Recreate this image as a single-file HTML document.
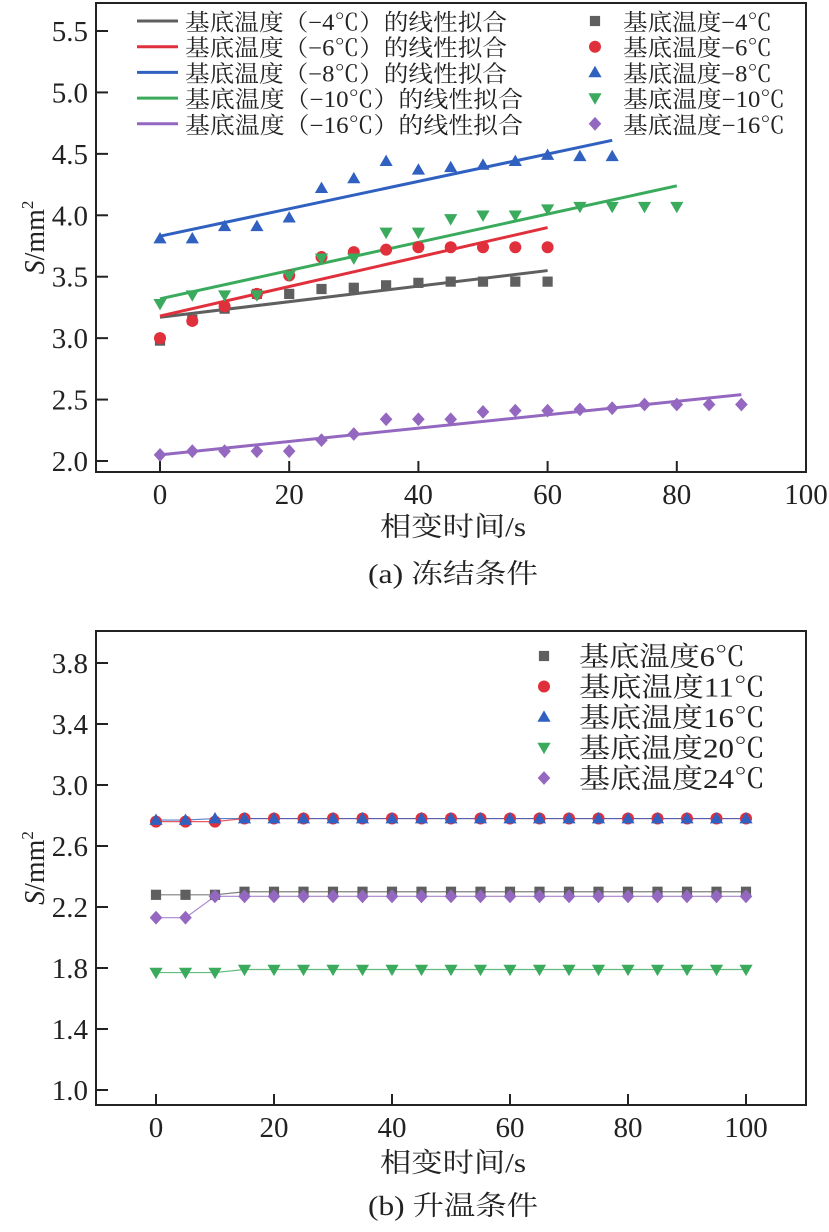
<!DOCTYPE html>
<html><head><meta charset="utf-8">
<style>
html,body{margin:0;padding:0;background:#fff;}
svg text{font-family:"Liberation Serif","Times New Roman","Noto Serif CJK SC",serif;}
</style></head>
<body>
<svg id="svg" width="829" height="1227" viewBox="0 0 829 1227" xmlns="http://www.w3.org/2000/svg"></svg>
<script>
// ---- chart (a) data ----
const aTimes = [0,5,10,15,20,25,30,35,40,45,50,55,60,65,70,75,80,85,90];
const aS4  = [2.98,3.15,3.24,3.36,3.36,3.40,3.41,3.43,3.45,3.46,3.46,3.46,3.46];
const aS6  = [3.00,3.14,3.26,3.36,3.51,3.66,3.70,3.72,3.74,3.74,3.74,3.74,3.74];
const aS8  = [3.81,3.81,3.91,3.91,3.98,4.22,4.30,4.44,4.37,4.39,4.41,4.44,4.49,4.48,4.48];
const aS10 = [3.28,3.35,3.35,3.35,3.51,3.65,3.65,3.86,3.86,3.97,4.00,4.00,4.05,4.07,4.07,4.07,4.07];
const aS16 = [2.05,2.08,2.08,2.08,2.08,2.17,2.22,2.34,2.34,2.34,2.40,2.41,2.41,2.42,2.43,2.46,2.46,2.46,2.46];
const aFitStart = [3.17,3.18,3.83,3.32,2.05];
const aFitEnd   = [3.55,3.90,4.61,4.24,2.54];
const aFitXEnd  = [60,60,70,80,90];
const aXTicks = [0,20,40,60,80,100];
const aYTicks = [2.0,2.5,3.0,3.5,4.0,4.5,5.0,5.5];
const aFitLabels = ["基底温度（−4℃）的线性拟合","基底温度（−6℃）的线性拟合","基底温度（−8℃）的线性拟合","基底温度（−10℃）的线性拟合","基底温度（−16℃）的线性拟合"];
const aPtLabels = ["基底温度−4℃","基底温度−6℃","基底温度−8℃","基底温度−10℃","基底温度−16℃"];
// ---- chart (b) data ----
const bTimes = [0,5,10,15,20,25,30,35,40,45,50,55,60,65,70,75,80,85,90,95,100];
const bS6  = [2.28,2.28,2.28,2.30,2.30,2.30,2.30,2.30,2.30,2.30,2.30,2.30,2.30,2.30,2.30,2.30,2.30,2.30,2.30,2.30,2.30];
const bS11 = [2.76,2.76,2.76,2.78,2.78,2.78,2.78,2.78,2.78,2.78,2.78,2.78,2.78,2.78,2.78,2.78,2.78,2.78,2.78,2.78,2.78];
const bS16 = [2.77,2.77,2.78,2.78,2.78,2.78,2.78,2.78,2.78,2.78,2.78,2.78,2.78,2.78,2.78,2.78,2.78,2.78,2.78,2.78,2.78];
const bS20 = [1.77,1.77,1.77,1.79,1.79,1.79,1.79,1.79,1.79,1.79,1.79,1.79,1.79,1.79,1.79,1.79,1.79,1.79,1.79,1.79,1.79];
const bS24 = [2.13,2.13,2.27,2.27,2.27,2.27,2.27,2.27,2.27,2.27,2.27,2.27,2.27,2.27,2.27,2.27,2.27,2.27,2.27,2.27,2.27];
const bXTicks = [0,20,40,60,80,100];
const bYTicks = [1.0,1.4,1.8,2.2,2.6,3.0,3.4,3.8];
const bLabels = ["基底温度6℃","基底温度11℃","基底温度16℃","基底温度20℃","基底温度24℃"];

const COLORS = ["#5f5f5f","#e0303c","#3060c0","#3aaa5c","#9468c0"];
const SHAPES = ["square","circle","up","down","diamond"];
const NS = "http://www.w3.org/2000/svg";
const svg = document.getElementById("svg");
const LATIN = "Liberation Serif, serif";
function el(tag, attrs, parent, text){
  const e = document.createElementNS(NS, tag);
  for (const k in attrs) e.setAttribute(k, attrs[k]);
  if (text !== undefined) e.textContent = text;
  (parent||svg).appendChild(e);
  return e;
}
function marker(shape, cx, cy, color, r, parent){
  let m;
  if (shape==="square") m = el("rect",{x:cx-r*0.85,y:cy-r*0.85,width:r*1.7,height:r*1.7,fill:color},parent);
  else if (shape==="circle") m = el("circle",{cx:cx,cy:cy,r:r,fill:color},parent);
  else if (shape==="up") m = el("polygon",{points:`${cx},${cy-r*1.1} ${cx-r*1.1},${cy+r*0.8} ${cx+r*1.1},${cy+r*0.8}`,fill:color},parent);
  else if (shape==="down") m = el("polygon",{points:`${cx},${cy+r*1.1} ${cx-r*1.1},${cy-r*0.8} ${cx+r*1.1},${cy-r*0.8}`,fill:color},parent);
  else m = el("polygon",{points:`${cx},${cy-r*1.15} ${cx+r*1.05},${cy} ${cx},${cy+r*1.15} ${cx-r*1.05},${cy}`,fill:color},parent);
  return m;
}

function axes(g, box, xs, ys, xTicks, yTicks, xTitleY, capY, capText, yTitleX){
  el("rect",{x:box.l,y:box.t,width:box.r-box.l,height:box.b-box.t,fill:"none",stroke:"#222","stroke-width":2},g);
  for (const v of xTicks){
    const x = xs(v);
    if (x < box.r-2) el("line",{x1:x,y1:box.b,x2:x,y2:box.b-11,stroke:"#222","stroke-width":2},g);
    const t = el("text",{x:x,y:box.b+32,"text-anchor":"middle","font-size":29,fill:"#222",style:"font-family:'Liberation Serif',serif"},g,String(v));
    
    
  }
  for (const v of yTicks){
    const y = ys(v);
    el("line",{x1:box.l,y1:y,x2:box.l+12,y2:y,stroke:"#222","stroke-width":2},g);
    const t = el("text",{x:box.l-8,y:y+10,"text-anchor":"end","font-size":29,fill:"#222",style:"font-family:'Liberation Serif',serif"},g,v.toFixed(1));
    
    
  }
  const xt = el("text",{x:453,y:xTitleY,"text-anchor":"middle","font-size":27,fill:"#222",textLength:146,lengthAdjust:"spacingAndGlyphs"},g,"相变时间/s");
  
  
  const cp = el("text",{x:453,y:capY,"text-anchor":"middle","font-size":27,fill:"#222",textLength:170,lengthAdjust:"spacingAndGlyphs"},g,capText);
  
  
  const cy = (box.t+box.b)/2;
  const yt = el("text",{x:yTitleX,y:cy,"text-anchor":"middle","font-size":28,fill:"#222",transform:`rotate(-90 ${yTitleX} ${cy})`,style:"font-family:'Liberation Serif',serif"},g);
  
  
  el("tspan",{"font-style":"italic"},yt,"S");
  el("tspan",{},yt,"/mm");
  el("tspan",{dy:-11,"font-size":17},yt,"2");
}

// ---- chart (a) ----
const boxA = {l:96,r:806,t:3,b:472};
const xa = v => 160 + (v/100)*(806-160);
const ya = v => 461 - (v-2.0)*(461-31)/3.5;
const gA = el("g",{});


axes(gA, boxA, xa, ya, aXTicks, aYTicks, 536, 583, "(a) 冻结条件", 44);
const aSeries = [aS4,aS6,aS8,aS10,aS16];
aSeries.forEach((s,i)=>{
  const fl = el("line",{x1:xa(0),y1:ya(aFitStart[i]),x2:xa(aFitXEnd[i]),y2:ya(aFitEnd[i]),stroke:COLORS[i],"stroke-width":3},gA);
  
  
});
aSeries.forEach((s,i)=>{
  s.forEach((v,j)=>{
    const m = marker(SHAPES[i], xa(aTimes[j]), ya(v), COLORS[i], 6, gA);
    
    
  });
});
const legA = el("g",{});


aFitLabels.forEach((lab,i)=>{
  const y = 21 + i*25.7;
  el("line",{x1:137,y1:y,x2:178,y2:y,stroke:COLORS[i],"stroke-width":3},legA);
  const t = el("text",{x:185,y:y+9,"font-size":23,fill:"#222",textLength:(i<3?322:338),lengthAdjust:"spacingAndGlyphs"},legA,lab);
  
  
  marker(SHAPES[i], 595, y, COLORS[i], 6, legA);
  const t2 = el("text",{x:623,y:y+9,"font-size":23,fill:"#222",textLength:(i<3?149:162),lengthAdjust:"spacingAndGlyphs"},legA,aPtLabels[i]);
  
  
});

// ---- chart (b) ----
const boxB = {l:96,r:806,t:631,b:1105};
const xb = v => 156 + (v/100)*(746-156);
const yb = v => 1090 - (v-1.0)*(1090-663)/2.8;
const gB = el("g",{});


axes(gB, boxB, xb, yb, bXTicks, bYTicks, 1172, 1215, "(b) 升温条件", 44);
const bSeries = [bS6,bS11,bS16,bS20,bS24];
bSeries.forEach((s,i)=>{
  const pts = s.map((v,j)=>`${xb(bTimes[j])},${yb(v)}`).join(" ");
  const pl = el("polyline",{points:pts,fill:"none",stroke:COLORS[i],"stroke-width":1.2,opacity:0.8},gB);
  
  
});
bSeries.forEach((s,i)=>{
  s.forEach((v,j)=>{
    const m = marker(SHAPES[i], xb(bTimes[j]), yb(v), COLORS[i], 6, gB);
    
    
  });
});
const legB = el("g",{});


bLabels.forEach((lab,i)=>{
  const y = 656 + i*30.5;
  marker(SHAPES[i], 544, y, COLORS[i], 6, legB);
  const t = el("text",{x:579,y:y+10,"font-size":27,fill:"#222",textLength:(i===0?166:186),lengthAdjust:"spacingAndGlyphs"},legB,lab);
  
  
});
</script>
</body></html>
